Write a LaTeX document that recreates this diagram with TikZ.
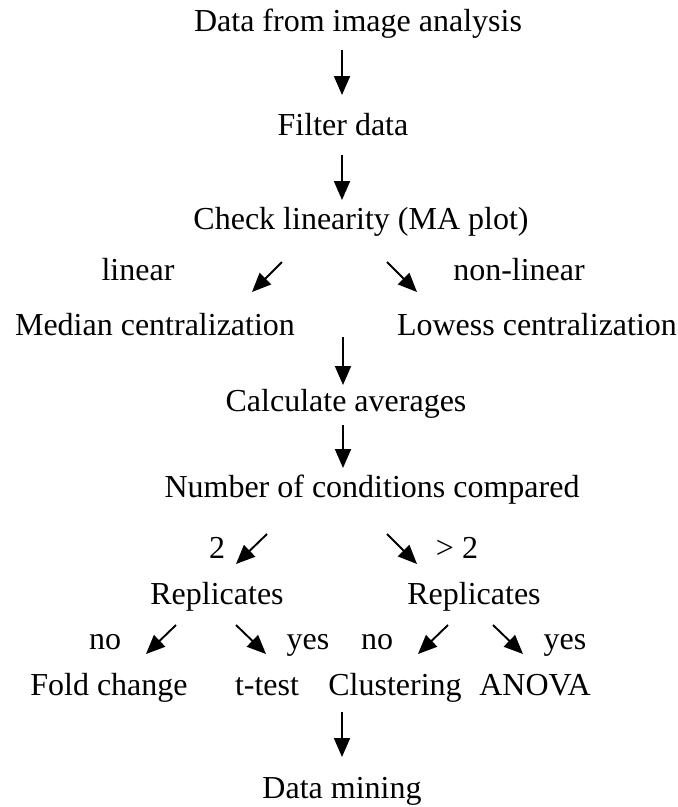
\documentclass[tikz,border=0pt]{standalone}
\usepackage{fontspec}
\setmainfont{Liberation Serif}
\usetikzlibrary{arrows.meta}
\tikzstyle{txt} = [anchor=base, inner sep=0pt, font=\fontsize{32}{38}\selectfont]
\tikzstyle{arrow} = [line width=1.9pt, -{Triangle[width=16pt,length=19pt]}]

\begin{document}
\begin{tikzpicture}[x=1pt, y=-1pt]
\useasboundingbox (0,0) rectangle (678,807);
\node (data) [txt] at (358,31) {Data from image analysis};
\node (filter) [txt] at (343,135) {Filter data};
\node (check) [txt] at (361,229) {Check linearity (MA plot)};
\node (lin) [txt] at (138,280) {linear};
\node (nonlin) [txt] at (519,280) {non-linear};
\node (median) [txt] at (155,335) {Median centralization};
\node (lowess) [txt] at (537,335) {Lowess centralization};
\node (calc) [txt] at (346,411) {Calculate averages};
\node (number) [txt] at (372,497) {Number of conditions compared};
\node (two) [txt] at (217,558) {2};
\node (more) [txt] at (457,558) {> 2};
\node (replL) [txt] at (217,604) {Replicates};
\node (replR) [txt] at (474,604) {Replicates};
\node (noL) [txt] at (105,649) {no};
\node (yesL) [txt] at (308,649) {yes};
\node (noR) [txt] at (377,649) {no};
\node (yesR) [txt] at (565,649) {yes};
\node (fold) [txt] at (109,695) {Fold change};
\node (ttest) [txt] at (267,695) {t-test};
\node (clust) [txt] at (395,695) {Clustering};
\node (anova) [txt] at (535,695) {ANOVA};
\node (mining) [txt] at (342,798) {Data mining};

% arrow ends
\coordinate (d1) at (342,50);  \coordinate (d1e) at (342,95);
\coordinate (d2) at (342,155); \coordinate (d2e) at (342,200);
\coordinate (l1) at (282,262); \coordinate (l1e) at (252,292);
\coordinate (n1) at (387,262); \coordinate (n1e) at (417,292);
\coordinate (d3) at (343,337); \coordinate (d3e) at (343,385);
\coordinate (d4) at (343,425); \coordinate (d4e) at (343,468);
\coordinate (t1) at (267,534); \coordinate (t1e) at (236,564);
\coordinate (m1) at (387,534); \coordinate (m1e) at (417,564);
\coordinate (a1) at (176,625); \coordinate (a1e) at (146,654);
\coordinate (a2) at (236,625); \coordinate (a2e) at (266,654);
\coordinate (a3) at (448,625); \coordinate (a3e) at (418,654);
\coordinate (a4) at (493,625); \coordinate (a4e) at (523,654);
\coordinate (d5) at (342,712); \coordinate (d5e) at (342,757);

\draw [arrow] (d1) -- (d1e);
\draw [arrow] (d2) -- (d2e);
\draw [arrow] (l1) -- (l1e);
\draw [arrow] (n1) -- (n1e);
\draw [arrow] (d3) -- (d3e);
\draw [arrow] (d4) -- (d4e);
\draw [arrow] (t1) -- (t1e);
\draw [arrow] (m1) -- (m1e);
\draw [arrow] (a1) -- (a1e);
\draw [arrow] (a2) -- (a2e);
\draw [arrow] (a3) -- (a3e);
\draw [arrow] (a4) -- (a4e);
\draw [arrow] (d5) -- (d5e);
\end{tikzpicture}
\end{document}
